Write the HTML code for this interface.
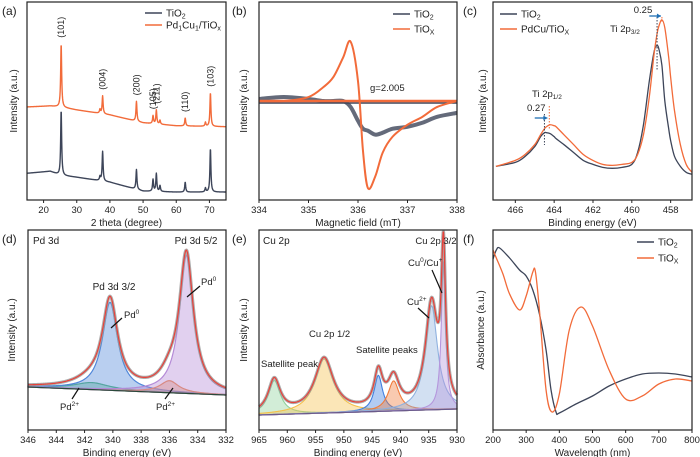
<!DOCTYPE html>
<html><head><meta charset="utf-8"><style>
body{margin:0;background:#fff}
svg{display:block;font-family:"Liberation Sans",sans-serif}
</style></head><body>
<svg id="fig" width="700" height="457" viewBox="0 0 700 457" xmlns="http://www.w3.org/2000/svg"></svg>
<script>
// ---- data ----
const xrdPeakPos=[25.3,37.0,37.8,48.0,53.0,54.0,55.1,62.7,68.8,70.3];
const xrdLabels=["(101)","","(004)","(200)","(105)","(211)","","(110)","","(103)"];
const xrdDarkH=[0.33,0.02,0.15,0.10,0.06,0.09,0.03,0.05,0.02,0.22];
const xrdOrangeH=[0.32,0.02,0.09,0.10,0.04,0.07,0.02,0.04,0.02,0.17];
const xrdBaseX=[15,22,25,30,40,50,60,75];
const xrdDarkBase=[0.135,0.145,0.125,0.115,0.09,0.045,0.04,0.04];
const xrdOrangeBase=[0.47,0.475,0.47,0.455,0.43,0.39,0.375,0.37];

const eprX=[334,334.5,335,335.3,335.5,335.7,335.85,336.0,336.1,336.2,336.35,336.5,336.7,337,337.3,337.6,338];
const eprOrange=[0.5,0.5,0.52,0.57,0.62,0.72,0.8,0.6,0.25,0.06,0.12,0.24,0.32,0.38,0.42,0.47,0.5];
const eprDark=[0.51,0.52,0.51,0.5,0.5,0.5,0.47,0.4,0.36,0.35,0.33,0.34,0.36,0.37,0.39,0.42,0.44];

const xpsTiX=[467,466,465.5,465,464.7,464.5,464.4,464.2,464,463.9,463.5,463,462.5,462,461.5,461,460.5,460,459.7,459.4,459.1,458.85,458.7,458.6,458.45,458.3,458.1,458,457.8,457.5,457.2,456.9];
const xpsTiDark=[0.17,0.19,0.22,0.27,0.32,0.34,0.34,0.335,0.32,0.31,0.28,0.24,0.2,0.18,0.165,0.16,0.165,0.18,0.24,0.38,0.6,0.75,0.78,0.76,0.68,0.5,0.36,0.3,0.22,0.17,0.14,0.13];
const xpsTiOrange=[0.17,0.2,0.23,0.28,0.33,0.36,0.37,0.38,0.375,0.37,0.33,0.28,0.23,0.2,0.18,0.175,0.18,0.19,0.23,0.33,0.52,0.74,0.84,0.88,0.91,0.87,0.72,0.62,0.45,0.28,0.18,0.14];

const pdCenters=[341.5,340.2,336.0,334.8];
const pdHeights=[0.035,0.44,0.06,0.69];
const pdWidths=[3.0,1.3,1.6,1.2];
const pdColors=["#59b87a","#4f86d9","#f08a4b","#b48ad6"];
const pdBase=[0.215,0.175];

const cuCenters=[962.3,953.5,943.9,941.2,934.5,932.4];
const cuHeights=[0.17,0.27,0.18,0.15,0.52,0.74];
const cuWidths=[2.6,4.0,1.8,2.4,2.6,0.9];
const cuColors=["#8fd19a","#f5c04a","#3f7fe0","#f07b3a","#8fb1df","#b496dc"];
const cuBase=[0.075,0.105];

const uvX=[200,210,220,250,280,300,320,340,360,375,390,400,450,500,550,600,650,700,750,800];
const uvDark=[0.855,0.9,0.91,0.86,0.8,0.77,0.7,0.58,0.4,0.2,0.09,0.085,0.13,0.17,0.22,0.255,0.28,0.285,0.28,0.265];
const uvTX=[200,210,230,250,280,300,320,328,340,360,378,400,430,465,500,550,600,650,700,750,800];
const uvTiOx=[0.9,0.86,0.78,0.68,0.6,0.67,0.79,0.79,0.6,0.2,0.09,0.18,0.5,0.615,0.52,0.3,0.155,0.17,0.23,0.255,0.245];

// ---- helpers ----
const NS="http://www.w3.org/2000/svg";const svg=document.getElementById('fig');
function el(tag,attrs,parent){const e=document.createElementNS(NS,tag);for(const k in attrs)e.setAttribute(k,attrs[k]);(parent||svg).appendChild(e);return e;}
function txt(x,y,s,size,parent,anchor,rot){const t=el('text',{x:x,y:y,'font-size':size,fill:'#222','text-anchor':anchor||'middle'},parent);if(rot)t.setAttribute('transform',`rotate(${rot} ${x} ${y})`);t.innerHTML=s;return t;}
function lor(x,c,h,w){const d=(x-c)/(w/2);return h/(1+d*d);}
function lin(xs,ys,x){for(let i=0;i<xs.length-1;i++){if((x-xs[i])*(x-xs[i+1])<=0){const t=(x-xs[i])/(xs[i+1]-xs[i]);return ys[i]+t*(ys[i+1]-ys[i]);}}return ys[ys.length-1];}
function smooth(pts){let d=`M${pts[0][0]},${pts[0][1]}`;for(let i=0;i<pts.length-1;i++){const p0=pts[i-1]||pts[i],p1=pts[i],p2=pts[i+1],p3=pts[i+2]||p2;d+=`C${p1[0]+(p2[0]-p0[0])/6},${p1[1]+(p2[1]-p0[1])/6} ${p2[0]-(p3[0]-p1[0])/6},${p2[1]-(p3[1]-p1[1])/6} ${p2[0]},${p2[1]}`;}return d;}
function panel(o){
  const g=el('g',{});
  const sx=v=>o.L+(v-o.x0)/(o.x1-o.x0)*(o.R-o.L);
  const sy=v=>o.B-v*(o.B-o.T);
  o.sx=sx;o.sy=sy;o.g=g;
  const ax=el('g',{},g);
  o.ticks.forEach(t=>{const x=sx(t);el('line',{x1:x,x2:x,y1:o.B,y2:o.B+3,stroke:'#222','stroke-width':1},ax);txt(x,o.B+13,String(t),9.5,ax);});
  const xt=txt((o.L+o.R)/2,o.B+26,o.xtitle,10,ax);
  const yt=txt(o.ylx,(o.T+o.B)/2,o.ytitle,10,g,'middle',-90);
  const pl=txt(o.labx,o.T+13,o.label,12,g,'start');
  return o;
}
function frame(o){const r=el('rect',{x:o.L,y:o.T,width:o.R-o.L,height:o.B-o.T,fill:'none',stroke:'#222','stroke-width':1.2},o.g);}
function legend(o,items,x,y,dy){const lg=el('g',{},o.g);
  items.forEach((it,i)=>{const e=el('g',{},lg);
  el('line',{x1:x,x2:x+17,y1:y+i*dy,y2:y+i*dy,stroke:it[1],'stroke-width':1.5},e);txt(x+21,y+i*dy+3.5,it[0],10,e,'start');});}
function curve(o,fn,x0,x1,n,color,w,name){let pts=[];for(let i=0;i<=n;i++){const x=x0+(x1-x0)*i/n;pts.push([o.sx(x).toFixed(2),o.sy(fn(x)).toFixed(2)]);}
  const p=el('polyline',{points:pts.map(p=>p.join(',')).join(' '),fill:'none',stroke:color,'stroke-width':w,'stroke-linejoin':'round'},o.g);return p;}
function sline(o,xs,ys,color,w,name){const p=el('path',{d:smooth(xs.map((x,i)=>[o.sx(x),o.sy(ys[i])])),fill:'none',stroke:color,'stroke-width':w},o.g);return p;}
const DARK="#3d4559",OR="#f26b3a";
const sub2='<tspan font-size="7" dy="2">2</tspan>',subx='<tspan font-size="7" dy="2">X</tspan>';

// ---- (a) XRD ----
const a=panel({name:'panel-a-xrd',L:27,R:226,T:2,B:200,x0:15,x1:75,ticks:[20,30,40,50,60,70],xtitle:'2 theta (degree)',ytitle:'Intensity (a.u.)',ylx:17,labx:2,label:'(a)'});
const xrd=(base,H)=>x=>lin(xrdBaseX,base,x)+xrdPeakPos.reduce((s,c,i)=>s+lor(x,c,H[i],0.35),0);
curve(a,xrd(xrdDarkBase,xrdDarkH),15,75,900,DARK,1.4,'tio2-xrd-line');
curve(a,xrd(xrdOrangeBase,xrdOrangeH),15,75,900,OR,1.4,'pdcu-tiox-xrd-line');
xrdLabels.forEach((l,i)=>{if(!l)return;const x=a.sx(xrdPeakPos[i]);const top=a.sy(xrd(xrdOrangeBase,xrdOrangeH)(xrdPeakPos[i]));const t=txt(x+3,top-6,l,9,a.g,'start',-90);});
legend(a,[['TiO'+sub2,DARK],['Pd<tspan font-size="7" dy="2">1</tspan><tspan dy="-2">Cu</tspan><tspan font-size="7" dy="2">1</tspan><tspan dy="-2">/TiO</tspan>'+'<tspan font-size="7" dy="2">x</tspan>',OR]],145,13,12);
frame(a);

// ---- (b) EPR ----
const b=panel({name:'panel-b-epr',L:259,R:457,T:2,B:200,x0:334,x1:338,ticks:[334,335,336,337,338],xtitle:'Magnetic field (mT)',ytitle:'Intensity (a.u.)',ylx:247,labx:232,label:'(b)'});
sline(b,eprX,eprDark,DARK,4,'tio2-epr-line').setAttribute('stroke-opacity','0.8');
el('line',{x1:b.L,x2:b.R,y1:b.sy(0.49),y2:b.sy(0.49),stroke:DARK,'stroke-width':1.5},b.g);
sline(b,eprX,eprOrange,OR,2,'tiox-epr-line');
el('line',{x1:b.L,x2:b.R,y1:b.sy(0.5),y2:b.sy(0.5),stroke:OR,'stroke-width':2.5},b.g);
txt(370,91,'g=2.005',9.5,b.g,'start');
legend(b,[['TiO'+sub2,DARK],['TiO'+subx,OR]],393,14,15);
frame(b);

// ---- (c) Ti 2p ----
const c=panel({name:'panel-c-ti2p',L:493,R:692,T:2,B:200,x0:467.15,x1:456.9,ticks:[466,464,462,460,458],xtitle:'Binding energy (eV)',ytitle:'Intensity (a.u.)',ylx:486,labx:463,label:'(c)'});
sline(c,xpsTiX,xpsTiDark,DARK,1.3,'tio2-ti2p-line');
sline(c,xpsTiX,xpsTiOrange,OR,1.3,'pdcu-tiox-ti2p-line');
[[458.7,DARK,17,70],[458.45,OR,17,22],[464.5,DARK,114,145],[464.25,OR,106,130]].forEach(d=>el('line',{x1:c.sx(d[0]),x2:c.sx(d[0]),y1:d[2],y2:d[3],stroke:d[1],'stroke-width':1,'stroke-dasharray':'1.5,1.5'},c.g));
el('line',{x1:c.sx(459.1),x2:c.sx(458.5),y1:16,y2:16,stroke:'#1f6fb4','stroke-width':1.3},c.g);
el('path',{d:`M${c.sx(458.5)},16 l-4,-2.5 v5z`,fill:'#1f6fb4'},c.g);
el('line',{x1:c.sx(465.0),x2:c.sx(464.35),y1:118,y2:118,stroke:'#1f6fb4','stroke-width':1.3},c.g);
el('path',{d:`M${c.sx(464.35)},118 l-4,-2.5 v5z`,fill:'#1f6fb4'},c.g);
txt(643,13,'0.25',9.5,c.g);txt(625,32,'Ti 2p<tspan font-size="6.5" dy="2">3/2</tspan>',9.5,c.g);
txt(532,97,'Ti 2p<tspan font-size="6.5" dy="2">1/2</tspan>',9.5,c.g,'start');txt(527,111,'0.27',9.5,c.g,'start');
legend(c,[['TiO'+sub2,DARK],['PdCu/TiO'+subx,OR]],500,14,15);
frame(c);

// ---- (d) Pd 3d ----
const d=panel({name:'panel-d-pd3d',L:28,R:226,T:230,B:430,x0:346,x1:332,ticks:[346,344,342,340,338,336,334,332],xtitle:'Binding energy (eV)',ytitle:'Intensity (a.u.)',ylx:15,labx:2,label:'(d)'});
const pdBl=x=>pdBase[0]+(pdBase[1]-pdBase[0])*(346-x)/14;
pdCenters.forEach((cc,i)=>{let pts=[];for(let k=0;k<=300;k++){const x=346-14*k/300;pts.push([d.sx(x),d.sy(pdBl(x)+lor(x,cc,pdHeights[i],pdWidths[i]))]);}
 const path='M'+d.sx(346)+','+d.sy(pdBl(346))+' L'+pts.map(p=>p.join(',')).join(' L')+' L'+d.sx(332)+','+d.sy(pdBl(332))+'Z';
 const p=el('path',{d:path,fill:pdColors[i],'fill-opacity':0.4,stroke:pdColors[i],'stroke-width':1.2},d.g);});
const pdEnv=x=>pdBl(x)+pdCenters.reduce((s,cc,i)=>s+lor(x,cc,pdHeights[i],pdWidths[i]),0);
curve(d,pdEnv,346,332,400,'#999',3.2,'pd-raw-data').setAttribute('stroke-opacity','0.8');
curve(d,pdEnv,346,332,400,'#e8413a',1.2,'pd-fit-envelope');
curve(d,pdBl,346,332,10,'#2a4a3a',1.2,'pd-baseline');
txt(33,244,'Pd 3d',10,d.g,'start');txt(114,290,'Pd 3d 3/2',10,d.g);txt(196,244,'Pd 3d 5/2',10,d.g);
txt(124,318,'Pd<tspan font-size="6.5" dy="-4">0</tspan>',9.5,d.g,'start');el('line',{x1:122,y1:318,x2:111,y2:328,stroke:'#111','stroke-width':1.2},d.g);
txt(201,285,'Pd<tspan font-size="6.5" dy="-4">0</tspan>',9.5,d.g,'start');el('line',{x1:200,y1:286,x2:187,y2:297,stroke:'#111','stroke-width':1.2},d.g);
txt(60,410,'Pd<tspan font-size="6.5" dy="-4">2+</tspan>',9.5,d.g,'start');el('line',{x1:79,y1:388,x2:72,y2:399,stroke:'#111','stroke-width':1.2},d.g);
txt(156,410,'Pd<tspan font-size="6.5" dy="-4">2+</tspan>',9.5,d.g,'start');el('line',{x1:173,y1:388,x2:165,y2:399,stroke:'#111','stroke-width':1.2},d.g);
frame(d);

// ---- (e) Cu 2p ----
const e=panel({name:'panel-e-cu2p',L:259,R:457,T:230,B:430,x0:965,x1:930,ticks:[965,960,955,950,945,940,935,930],xtitle:'Binding energy (eV)',ytitle:'Intensity (a.u.)',ylx:247,labx:232,label:'(e)'});
const cuBl=x=>cuBase[0]+(cuBase[1]-cuBase[0])*(965-x)/35;
cuCenters.forEach((cc,i)=>{let pts=[];for(let k=0;k<=350;k++){const x=965-35*k/350;pts.push([e.sx(x),e.sy(cuBl(x)+lor(x,cc,cuHeights[i],cuWidths[i]))]);}
 const path='M'+e.sx(965)+','+e.sy(cuBl(965))+' L'+pts.map(p=>p.join(',')).join(' L')+' L'+e.sx(930)+','+e.sy(cuBl(930))+'Z';
 const p=el('path',{d:path,fill:cuColors[i],'fill-opacity':0.4,stroke:cuColors[i],'stroke-width':1.1},e.g);});
const cuEnv=x=>cuBl(x)+cuCenters.reduce((s,cc,i)=>s+lor(x,cc,cuHeights[i],cuWidths[i]),0);
curve(e,cuEnv,965,930,500,'#999',3.2,'cu-raw-data').setAttribute('stroke-opacity','0.8');
curve(e,cuEnv,965,930,500,'#e8413a',1.2,'cu-fit-envelope');
curve(e,cuBl,965,930,10,'#6a5a8a',1.2,'cu-baseline');
txt(263,244,'Cu 2p',10,e.g,'start');txt(436,244,'Cu 2p 3/2',9.5,e.g);
txt(408,266,'Cu<tspan font-size="6.5" dy="-4">0</tspan><tspan dy="4">/Cu</tspan><tspan font-size="6.5" dy="-4">+</tspan>',9.5,e.g,'start');
el('line',{x1:432,y1:270,x2:442,y2:293,stroke:'#111','stroke-width':1.2},e.g);
txt(407,305,'Cu<tspan font-size="6.5" dy="-4">2+</tspan>',9.5,e.g,'start');el('line',{x1:418,y1:308,x2:429,y2:318,stroke:'#111','stroke-width':1.2},e.g);
txt(309,337,'Cu 2p 1/2',9.5,e.g,'start');txt(356,353,'Satellite peaks',9.5,e.g,'start');txt(261,367,'Satellite peak',9.5,e.g,'start');
frame(e);

// ---- (f) UV-vis ----
const f=panel({name:'panel-f-uvvis',L:493,R:692,T:230,B:430,x0:200,x1:800,ticks:[200,300,400,500,600,700,800],xtitle:'Wavelength (nm)',ytitle:'Absorbance (a.u.)',ylx:484,labx:463,label:'(f)'});
sline(f,uvX,uvDark,DARK,1.3,'tio2-uv-line');
sline(f,uvTX,uvTiOx,OR,1.3,'tiox-uv-line');
legend(f,[['TiO'+sub2,DARK],['TiO'+subx,OR]],637,242,16);
frame(f);
</script>
</body></html>
